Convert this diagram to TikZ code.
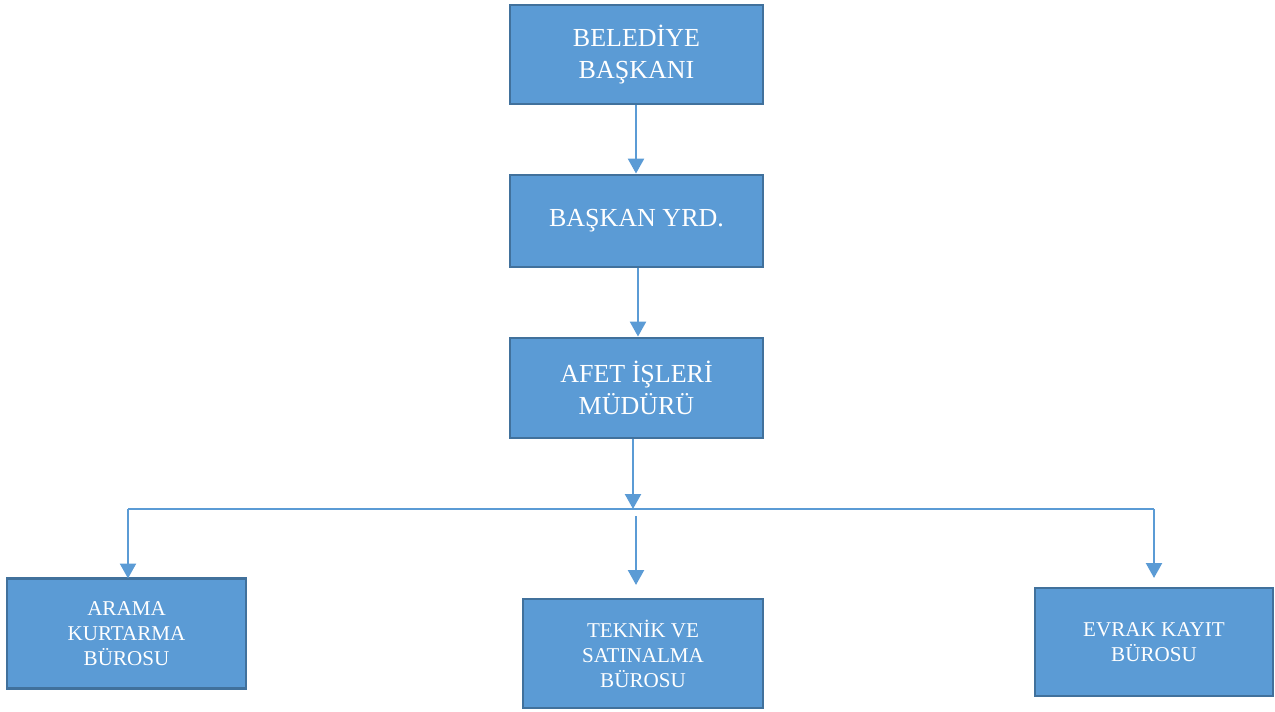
\documentclass[tikz,border=0pt]{standalone}
\usepackage{fontspec}
\setmainfont{Liberation Serif}
\usepackage{tikz}
\usetikzlibrary{arrows.meta}

\definecolor{boxblue}{HTML}{5B9BD5}
\definecolor{boxedge}{HTML}{41719C}

\tikzset{
    unit/.style={draw=boxedge, line width=1.6pt, fill=boxblue, text=white,
        align=center, inner sep=0pt},
    bigbox/.style={unit, font=\fontsize{14.8}{18}\selectfont},
    smallbox/.style={unit, font=\fontsize{12}{14.2}\selectfont},
    arr/.style={draw=boxblue, line width=1.5pt,
        -{Triangle[length=8.5pt,width=9pt]}},
}

\begin{document}
\begin{tikzpicture}[x=0.02cm, y=-0.02cm]
    \useasboundingbox (0,0) rectangle (1275,711);

    % Top of the chain
    \node[bigbox, minimum width=253*0.02cm, minimum height=99*0.02cm]
        (baskan) at (636.5,54.5) {BELEDİYE\\BAŞKANI};
    \node[bigbox, minimum width=253*0.02cm, minimum height=92*0.02cm]
        (yrd) at (636.5,221) {BAŞKAN YRD.};
    \node[bigbox, minimum width=253*0.02cm, minimum height=100*0.02cm]
        (mudur) at (636.5,388) {AFET İŞLERİ\\MÜDÜRÜ};

    % Offices
    \node[smallbox, minimum width=239*0.02cm, minimum height=110*0.02cm]
        (arama) at (126.5,633.5) {ARAMA\\KURTARMA\\BÜROSU};
    \node[smallbox, minimum width=240*0.02cm, minimum height=109*0.02cm]
        (teknik) at (643,653.5) {TEKNİK VE\\SATINALMA\\BÜROSU};
    \node[smallbox, minimum width=238*0.02cm, minimum height=108*0.02cm]
        (evrak) at (1154,642) {EVRAK KAYIT\\BÜROSU};

    % Junction points on the bar
    \coordinate (jleft) at (128,509);
    \coordinate (jmid) at (633,509);
    \coordinate (jright) at (1154,509);
    \coordinate (tstart) at (636,516);
    \coordinate (tend) at (636,585);
    \coordinate (lend) at (128,578.5);
    \coordinate (rend) at (1154,578);
    \coordinate (xa) at (636,0);
    \coordinate (xb) at (638,0);

    % Chain arrows
    \draw[arr] (baskan.south -| xa) -- (yrd.north -| xa);
    \draw[arr] (yrd.south -| xb) -- (mudur.north -| xb);
    \draw[arr] (mudur.south -| jmid) -- (jmid);

    % Bar and drops
    \draw[boxblue, line width=1pt] (jleft) -- (jright);
    \draw[arr] (jleft) -- (lend);
    \draw[arr] (tstart) -- (tend);
    \draw[arr] (jright) -- (rend);
\end{tikzpicture}
\end{document}
